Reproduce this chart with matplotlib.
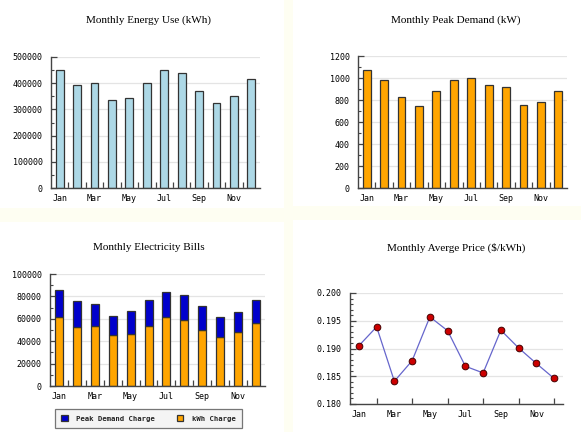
import matplotlib
matplotlib.use("Agg")
import matplotlib.pyplot as plt
from matplotlib.patches import Rectangle
from matplotlib.ticker import FixedLocator
import numpy as np

months = ["Jan", "Feb", "Mar", "Apr", "May", "Jun", "Jul", "Aug", "Sep", "Oct", "Nov", "Dec"]
energy_kwh = [452000, 394000, 400000, 337000, 343000, 400000, 452000, 439000, 369000, 326000, 353000, 417000]
peak_kw = [1075, 980, 830, 745, 880, 980, 997, 938, 914, 752, 778, 880]
kwh_charge = [61300, 52900, 53800, 45500, 46600, 53800, 61300, 58900, 49600, 43900, 48100, 56400]
total_bill = [86000, 75900, 73500, 62700, 66900, 76800, 84300, 80900, 71000, 61900, 66000, 76800]
avg_price = [0.1905, 0.1939, 0.1841, 0.1878, 0.1957, 0.1932, 0.1868, 0.1856, 0.1933, 0.1901, 0.1873, 0.1846]

peak_charge = [t - k for t, k in zip(total_bill, kwh_charge)]

W, H = 581, 432
fig = plt.figure(figsize=(W / 100, H / 100), dpi=100)
fig.patch.set_facecolor("#fefef2")

def fig_rect(x0, y0, x1, y1):
    return [x0 / W, (H - y1) / H, (x1 - x0) / W, (y1 - y0) / H]

# white panel backgrounds
for (x0, y0, x1, y1) in [(0, 0, 284, 208), (293, 0, 581, 206), (0, 222, 284, 432), (293, 220, 581, 432)]:
    fig.patches.append(Rectangle((x0 / W, (H - y1) / H), (x1 - x0) / W, (y1 - y0) / H,
                                 transform=fig.transFigure, facecolor="white", edgecolor="none", zorder=-10))

tick_font = dict(family="DejaVu Sans Mono", size=6)
title_font = dict(family="Liberation Serif", size=8.0)
x = np.arange(len(months))
edge = "#333333"
axcol = "#444444"

def style(ax, line=False):
    ax.set_xlim(-0.5, 11.5)
    for s in ["top", "right"]:
        ax.spines[s].set_visible(False)
    for s in ["left", "bottom"]:
        ax.spines[s].set_color(axcol)
        ax.spines[s].set_linewidth(1.0)
    ax.set_axisbelow(True)
    ax.yaxis.grid(True, color="#e4e4e4", linewidth=0.9)
    ax.set_xticks(x[::2])
    ax.set_xticklabels(months[::2], fontdict=tick_font)
    ax.tick_params(axis="x", which="major", length=0, pad=4)
    if line:
        ax.xaxis.set_minor_locator(FixedLocator(x))
    else:
        ax.xaxis.set_minor_locator(FixedLocator(x[:-1] + 0.5))
    ax.tick_params(axis="x", which="minor", direction="in", length=4, color=axcol, width=0.9)
    ax.tick_params(axis="y", which="major", direction="in", length=4, color=axcol, width=0.9, pad=6)
    ax.tick_params(axis="y", which="minor", direction="in", length=2.5, color=axcol, width=0.8)
    ax.set_facecolor("white")

# Panel 1
ax1 = fig.add_axes(fig_rect(51, 57, 260, 188))
ax1.bar(x, energy_kwh, width=0.45, color="#add8e6", edgecolor=edge, linewidth=0.9)
style(ax1)
ax1.set_ylim(0, 500000)
ax1.set_yticks(np.arange(0, 500001, 100000))
ax1.set_yticklabels([str(v) for v in range(0, 500001, 100000)], fontdict=tick_font)
ax1.yaxis.set_minor_locator(FixedLocator(np.arange(50000, 500000, 100000)))
fig.text(149 / W, 1 - 20 / H, "Monthly Energy Use (kWh)", ha="center", va="center", **title_font)

# Panel 2
ax2 = fig.add_axes(fig_rect(358, 56, 567, 188))
ax2.bar(x, peak_kw, width=0.45, color="#ffa500", edgecolor=edge, linewidth=0.9)
style(ax2)
ax2.set_ylim(0, 1200)
ax2.set_yticks(np.arange(0, 1201, 200))
ax2.set_yticklabels([str(v) for v in range(0, 1201, 200)], fontdict=tick_font)
ax2.yaxis.set_minor_locator(FixedLocator(np.arange(100, 1200, 200)))
fig.text(456 / W, 1 - 20 / H, "Monthly Peak Demand (kW)", ha="center", va="center", **title_font)

# Panel 3
ax3 = fig.add_axes(fig_rect(50, 274, 265, 386))
b1 = ax3.bar(x, kwh_charge, width=0.45, color="#ffa500", edgecolor=edge, linewidth=0.9, label="kWh Charge")
b2 = ax3.bar(x, peak_charge, bottom=kwh_charge, width=0.45, color="#0000cc", edgecolor=edge, linewidth=0.9,
             label="Peak Demand Charge")
style(ax3)
ax3.set_ylim(0, 100000)
ax3.set_yticks(np.arange(0, 100001, 20000))
ax3.set_yticklabels([str(v) for v in range(0, 100001, 20000)], fontdict=tick_font)
ax3.yaxis.set_minor_locator(FixedLocator(np.arange(10000, 100000, 20000)))
fig.text(149 / W, 1 - 247 / H, "Monthly Electricity Bills", ha="center", va="center", **title_font)
leg = fig.legend([b2, b1], ["Peak Demand Charge", "kWh Charge"], loc="center",
                 bbox_to_anchor=(148.5 / W, 1 - 418.5 / H), ncol=2, frameon=True, fancybox=False,
                 shadow=False, prop=dict(family="DejaVu Sans Mono", size=5.2, weight="bold"),
                 handlelength=0.9, handleheight=0.9, columnspacing=3.0, borderpad=0.9, handletextpad=1.2,
                 borderaxespad=0)
leg.get_frame().set_facecolor("#f2f2f2")
leg.get_frame().set_edgecolor("#555555")
leg.get_frame().set_linewidth(0.9)
for t in leg.get_texts():
    t.set_color("#222222")

# Panel 4
ax4 = fig.add_axes(fig_rect(350, 293, 563, 404))
ax4.plot(x, avg_price, color="#6666cc", linewidth=0.9, marker="o", markersize=4.8,
         markerfacecolor="#cc0000", markeredgecolor="#440000", markeredgewidth=0.7)
style(ax4, line=True)
ax4.set_ylim(0.180, 0.200)
ax4.set_yticks(np.arange(0.180, 0.2001, 0.005))
ax4.set_yticklabels(["0.180", "0.185", "0.190", "0.195", "0.200"], fontdict=tick_font)
ax4.yaxis.set_minor_locator(FixedLocator(np.arange(0.181, 0.2, 0.001)))
fig.text(456 / W, 1 - 248 / H, "Monthly Averge Price ($/kWh)", ha="center", va="center", **title_font)

fig.savefig("out.png", dpi=100, facecolor=fig.get_facecolor())
